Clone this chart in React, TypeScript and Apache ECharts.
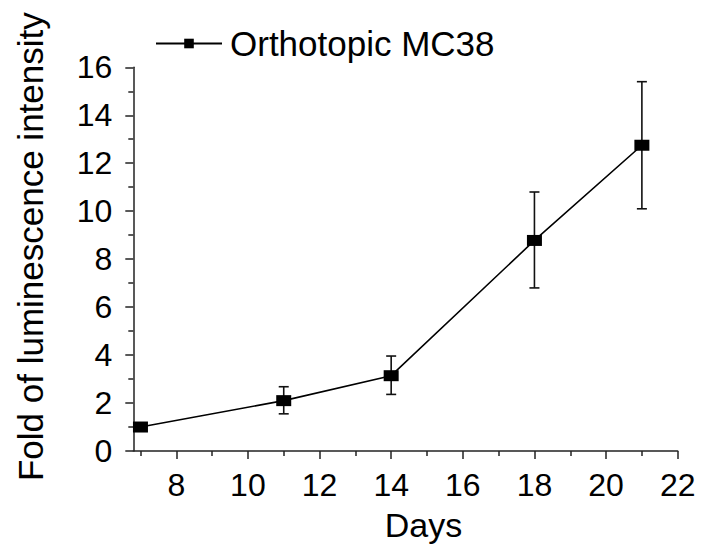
import React, { useEffect, useRef } from "react";
import * as echarts from "echarts";

const seriesName = "Orthotopic MC38";
const days = [7, 11, 14, 18, 21];
const means = [1.0, 2.1, 3.14, 8.78, 12.75];
const errLow = [1.0, 1.55, 2.36, 6.8, 10.1];
const errHigh = [1.0, 2.68, 3.96, 10.8, 15.4];
const xMajorTicks = [8, 10, 12, 14, 16, 18, 20, 22];
const xMinorTicks = [7, 9, 11, 13, 15, 17, 19, 21];

const FONT = '"Liberation Sans", Arial, Helvetica, sans-serif';

export default function App() {
  const ref = useRef<HTMLDivElement>(null);
  useEffect(() => {
    if (!ref.current) return;
    const chart = echarts.init(ref.current, null, { renderer: "svg" });
    const lineData = days.map((d, i) => [d, means[i]]);
    const errData = days.map((d, i) => [d, errLow[i], errHigh[i]]);
    chart.setOption({
      animation: false,
      backgroundColor: "#fff",
      textStyle: { fontFamily: FONT, color: "#000" },
      legend: {
        left: 150,
        top: 21,
        itemWidth: 66,
        itemHeight: 12,
        data: [seriesName],
        textStyle: { fontSize: 35, color: "#000", fontFamily: FONT, padding: [0, 0, 0, 3] },
      },
      grid: { left: 133.3, right: 23.3, top: 67.3, bottom: 101, containLabel: false },
      xAxis: [
        {
          type: "value",
          position: "bottom",
          min: 6.8,
          max: 22,
          name: "Days",
          nameLocation: "middle",
          nameGap: 57,
          nameTextStyle: { fontSize: 34, color: "#000", fontFamily: FONT, padding: [0, 0, 0, 36] },
          splitLine: { show: false },
          axisLine: { show: true, lineStyle: { color: "#222", width: 1.5 } },
          axisTick: { show: true, length: 8, customValues: xMajorTicks, lineStyle: { color: "#222", width: 1.5 } },
          axisLabel: { customValues: xMajorTicks, fontSize: 32, color: "#000", fontFamily: FONT, margin: 18 },
        },
        {
          type: "value",
          position: "bottom",
          min: 6.8,
          max: 22,
          splitLine: { show: false },
          axisLine: { show: false },
          axisTick: { show: true, length: 5, customValues: xMinorTicks, lineStyle: { color: "#222", width: 1.5 } },
          axisLabel: { show: false },
        },
      ],
      yAxis: {
        type: "value",
        min: 0,
        max: 16,
        interval: 2,
        name: "Fold of luminescence intensity",
        nameLocation: "middle",
        nameRotate: 90,
        nameGap: 85,
        nameTextStyle: { fontSize: 35, color: "#000", fontFamily: FONT, padding: [0, 0, 0, 25] },
        splitLine: { show: false },
        axisLine: { show: true, lineStyle: { color: "#222", width: 1.5 } },
        axisTick: { show: true, length: 8, lineStyle: { color: "#222", width: 1.5 } },
        minorTick: { show: true, splitNumber: 2, length: 5, lineStyle: { color: "#222", width: 1.5 } },
        axisLabel: { fontSize: 32, color: "#000", fontFamily: FONT, margin: 21 },
      },
      series: [
        {
          type: "custom",
          name: "error",
          xAxisIndex: 0,
          yAxisIndex: 0,
          data: errData,
          silent: true,
          renderItem: (params: any, api: any) => {
            const x = api.value(0);
            const lo = api.coord([x, api.value(1)]);
            const hi = api.coord([x, api.value(2)]);
            const hw = 5;
            const style = { stroke: "#111", lineWidth: 1.6, fill: "none" };
            return {
              type: "group",
              children: [
                { type: "line", shape: { x1: lo[0], y1: lo[1], x2: hi[0], y2: hi[1] }, style },
                { type: "line", shape: { x1: hi[0] - hw, y1: hi[1], x2: hi[0] + hw, y2: hi[1] }, style },
                { type: "line", shape: { x1: lo[0] - hw, y1: lo[1], x2: lo[0] + hw, y2: lo[1] }, style },
              ],
            };
          },
          z: 1,
        },
        {
          type: "line",
          name: seriesName,
          xAxisIndex: 0,
          yAxisIndex: 0,
          data: lineData,
          symbol: "rect",
          symbolSize: [15, 11],
          lineStyle: { color: "#000", width: 1.6 },
          itemStyle: { color: "#000" },
          z: 2,
        },
      ],
    });
    return () => chart.dispose();
  }, []);
  return (
    <div
      ref={ref}
      style={{ position: "fixed", left: 0, top: 0, width: 701, height: 552, background: "#fff" }}
    />
  );
}
